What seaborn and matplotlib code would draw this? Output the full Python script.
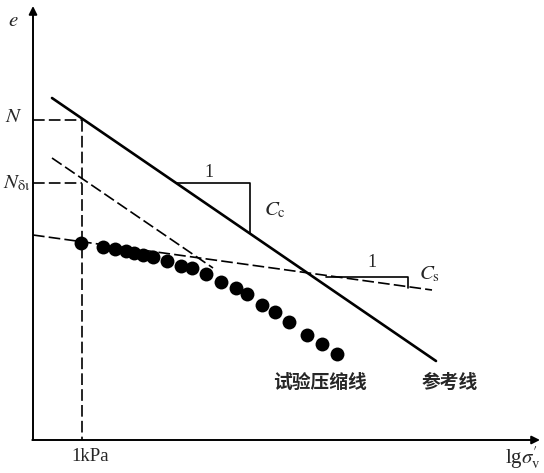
import matplotlib
matplotlib.use("Agg")
import matplotlib.pyplot as plt
import seaborn as sns
import pandas as pd

sns.set_theme(style="white")
plt.rcParams['font.family'] = ['Liberation Serif', 'Noto Sans CJK SC', 'DejaVu Sans']
plt.rcParams['mathtext.fontset'] = 'stix'

# Schematic coordinates (image-like units: x to the right, y downward)
dots_x = [81, 103, 115, 126, 134, 143, 153, 167, 181, 192, 206, 221, 236, 247, 262, 275, 289, 307, 322, 337]
dots_y = [243, 247, 249, 251, 253, 255, 257, 261, 266, 268, 274, 282, 288, 294, 305, 312, 322, 335, 344, 354]

ref_line_x = [52, 436]
ref_line_y = [98, 361]

steep_dash_x = [52, 213]
steep_dash_y = [158, 268]

flat_dash_x = [33, 432]
flat_dash_y = [235, 290]

guide_N_y = 120
guide_Nd_y = 183
guide_x = 82

cc_tri_x = [177, 250, 250]
cc_tri_y = [183, 183, 233]
cs_tri_x = [326, 408, 408]
cs_tri_y = [277, 277, 288]

axis_x0, axis_y0 = 33, 440

df = pd.DataFrame({"x": dots_x, "y": dots_y})

fig = plt.figure(figsize=(5.44, 4.73), dpi=100)
ax = fig.add_axes([0, 0, 1, 1])
ax.set_xlim(0, 544)
ax.set_ylim(473, 0)
ax.axis("off")

# axes with arrows
ax.annotate("", xy=(axis_x0, 6), xytext=(axis_x0, axis_y0),
            arrowprops=dict(arrowstyle="-|>", color="black", lw=1.4, mutation_scale=12, shrinkA=0, shrinkB=0))
ax.annotate("", xy=(540, axis_y0), xytext=(axis_x0 - 0.7, axis_y0),
            arrowprops=dict(arrowstyle="-|>", color="black", lw=1.4, mutation_scale=12, shrinkA=0, shrinkB=0))

dash = (0, (7, 2.5))
# guide dashed lines
ax.plot([axis_x0, guide_x], [guide_N_y, guide_N_y], color="black", lw=1.2, linestyle=dash)
ax.plot([axis_x0, guide_x], [guide_Nd_y, guide_Nd_y], color="black", lw=1.2, linestyle=dash)
ax.plot([guide_x, guide_x], [guide_N_y, axis_y0], color="black", lw=1.2, linestyle=dash)

# reference line
sns.lineplot(x=ref_line_x, y=ref_line_y, ax=ax, color="black", lw=1.9, sort=False)
# dashed lines
ax.plot(steep_dash_x, steep_dash_y, color="black", lw=1.2, linestyle=dash)
ax.plot(flat_dash_x, flat_dash_y, color="black", lw=1.2, linestyle=dash)

# slope triangles
ax.plot(cc_tri_x, cc_tri_y, color="black", lw=1.2)
ax.plot(cs_tri_x, cs_tri_y, color="black", lw=1.2)

# test data points
sns.scatterplot(data=df, x="x", y="y", ax=ax, s=100, color="black", edgecolor="black", linewidth=0, zorder=5)
ax.set_xlabel("")
ax.set_ylabel("")

# texts
ax.text(13, 22, r"$e$", fontsize=15, ha="center", va="center")
ax.text(14, 117, r"$N$", fontsize=15, ha="center", va="center")
ax.text(17, 183, r"$N_{\mathrm{δι}}$", fontsize=15, ha="center", va="center")
ax.text(90, 456, "1kPa", fontsize=13.5, ha="center", va="center")
ax.text(523, 458, r"lg$\sigma_{\rm v}^{\prime}$", fontsize=15, ha="center", va="center")
ax.text(209, 172, "1", fontsize=13, ha="center", va="center")
ax.text(275, 210, r"$C_{\rm c}$", fontsize=15, ha="center", va="center")
ax.text(372, 262, "1", fontsize=13, ha="center", va="center")
ax.text(430, 274, r"$C_{\rm s}$", fontsize=15, ha="center", va="center")
ax.text(320, 382, "试验压缩线", fontsize=13.5, fontweight="bold", ha="center", va="center",
        family=["Noto Sans CJK SC", "DejaVu Sans"])
ax.text(450, 382, "参考线", fontsize=13.5, fontweight="bold", ha="center", va="center",
        family=["Noto Sans CJK SC", "DejaVu Sans"])

fig.savefig("out.png", dpi=100)
